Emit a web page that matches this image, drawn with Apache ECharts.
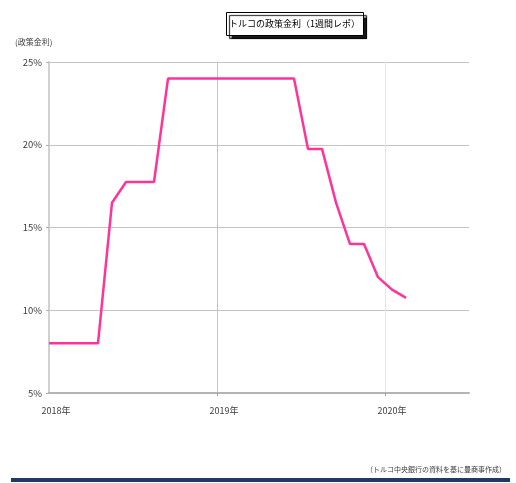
<!DOCTYPE html>
<html>
<head>
<meta charset="utf-8">
<script src="https://cdn.jsdelivr.net/npm/echarts@6/dist/echarts.min.js"></script>
<style>
  html, body { margin: 0; padding: 0; background: #fff; }
  #chart { width: 516px; height: 483px; }
</style>
</head>
<body>
<div id="chart"></div>
<script>
// Turkish central bank one-week repo rate, month-end values (%)
const months = [
  '2018-01','2018-02','2018-03','2018-04','2018-05','2018-06',
  '2018-07','2018-08','2018-09','2018-10','2018-11','2018-12',
  '2019-01','2019-02','2019-03','2019-04','2019-05','2019-06',
  '2019-07','2019-08','2019-09','2019-10','2019-11','2019-12',
  '2020-01','2020-02'
];
const rates = [
  8, 8, 8, 8, 16.5, 17.75,
  17.75, 17.75, 24, 24, 24, 24,
  24, 24, 24, 24, 24, 24,
  19.75, 19.75, 16.5, 14, 14, 12,
  11.25, 10.75
];
// rate in force at the start of the period
const openingRate = 8;
const yTicks = ['5%', '10%', '15%', '20%', '25%'];
const yearLabels = ['2018年', '2019年', '2020年'];

const FONT = '"Noto Sans CJK JP", "Noto Sans", sans-serif';
const firstYear = Number(months[0].slice(0, 4));

// x axis runs in months from January 2018; each month is plotted at its middle
const monthPos = m => (Number(m.slice(0, 4)) - firstYear) * 12 + Number(m.slice(5, 7)) - 1;
const seriesData = [[0, openingRate]].concat(months.map((m, i) => [monthPos(m) + 0.5, rates[i]]));

const chart = echarts.init(document.getElementById('chart'), null, { renderer: 'canvas' });
chart.setOption({
  animation: false,
  backgroundColor: '#fff',
  title: {
    text: 'トルコの政策金利（1週間レポ）',
    left: 226,
    top: 12,
    padding: [6, 4, 6, 3],
    backgroundColor: '#fff',
    borderColor: '#000',
    borderWidth: 1,
    shadowColor: 'rgba(0,0,0,0.9)',
    shadowOffsetX: 3,
    shadowOffsetY: 3,
    shadowBlur: 1,
    textStyle: { fontFamily: FONT, fontSize: 9, lineHeight: 12, fontWeight: 'normal', color: '#000' }
  },
  grid: { left: 49, right: 47, top: 62, bottom: 90 },
  xAxis: {
    type: 'value',
    min: 0,
    max: 30,
    interval: 6,
    axisLine: { show: true, lineStyle: { color: '#b4b4b4', width: 2 } },
    axisTick: { show: true, customValues: [12, 24], length: 3, lineStyle: { color: '#a0a0a0' } },
    axisLabel: {
      customValues: [0.5, 12.5, 24.5],
      formatter: v => yearLabels[Math.floor(v / 12)],
      fontFamily: FONT, fontSize: 9, color: '#404040', margin: 13
    },
    splitLine: { show: true, lineStyle: { color: ['#c4c4c4', '#e6e6e6'], width: 1 } }
  },
  yAxis: {
    type: 'value',
    min: 5,
    max: 25,
    interval: 5,
    axisLine: { show: true, lineStyle: { color: '#d0d0d0', width: 2 } },
    axisTick: { show: true, length: 3, lineStyle: { color: '#b0b0b0' } },
    axisLabel: {
      formatter: v => yTicks[(v - 5) / 5],
      fontFamily: FONT, fontSize: 9.5, color: '#404040', margin: 7
    },
    splitLine: { show: true, lineStyle: { color: '#c4c4c4', width: 1 } }
  },
  series: [{
    type: 'line',
    data: seriesData,
    showSymbol: false,
    lineStyle: { color: '#ff3399', width: 2.5 },
    silent: true
  }],
  graphic: [
    {
      type: 'text', left: 15, top: 38,
      style: { text: '(政策金利)', font: '8px ' + FONT, fill: '#404040' }
    },
    {
      type: 'text', right: 10, top: 466,
      style: { text: '（トルコ中央銀行の資料を基に豊商事作成）', font: '7px ' + FONT, fill: '#404040' }
    },
    {
      type: 'rect', shape: { x: 11, y: 478, width: 499, height: 4 },
      style: { fill: '#1f3864' }
    }
  ]
});
</script>
</body>
</html>
